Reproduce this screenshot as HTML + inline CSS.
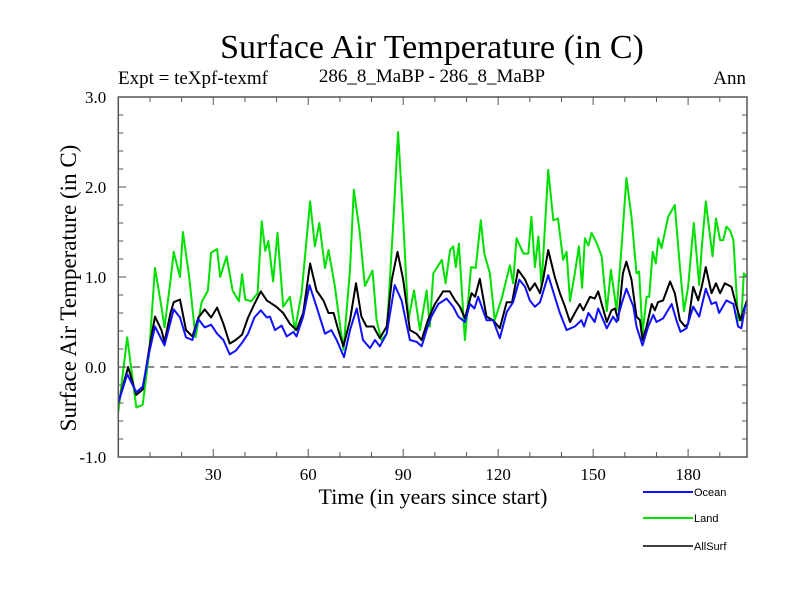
<!DOCTYPE html>
<html><head><meta charset="utf-8"><style>
body{margin:0;background:#fff;}
svg text{font-family:"Liberation Serif",serif;}
</style></head><body>
<svg id="chart" width="800" height="600" xmlns="http://www.w3.org/2000/svg">
<rect width="800" height="600" fill="#fff"/>
<text x="432" y="58" font-size="34" text-anchor="middle">Surface Air Temperature (in C)</text>
<text x="118" y="84" font-size="19">Expt = teXpf-texmf</text>
<text x="432" y="82" font-size="19" text-anchor="middle">286_8_MaBP - 286_8_MaBP</text>
<text x="746" y="84" font-size="19" text-anchor="end">Ann</text>
<text transform="translate(76,288) rotate(-90)" font-size="23" text-anchor="middle">Surface Air Temperature (in C)</text>
<text x="433" y="504" font-size="22" text-anchor="middle">Time (in years since start)</text>
<g id="plot"></g>
<g id="legend"></g>
</svg>
<script>
const xTicks=[30,60,90,120,150,180];
const yTickLabels=["-1.0","0.0","1.0","2.0","3.0"];
const yTicks=[-1,0,1,2,3];
const seriesNames=["Ocean","Land","AllSurf"];
const allYears=[0,3.1,5.7,7.7,9.7,11.6,13.6,14.6,16.5,17.5,19.5,21.4,23.4,25.3,27.3,29.3,31.2,33.2,35.2,37.1,39.1,41.0,43.0,45.0,46.9,49.9,52.1,54.2,56.3,58.4,60.6,62.6,64.8,66.4,68.0,69.5,71.1,73.2,75.1,76.8,78.4,80.6,82.6,84.8,86.4,88.2,90.0,92.1,94.2,95.8,97.8,100.0,102.6,104.7,106.4,107.9,109.5,111.6,112.7,114.2,116.3,118.4,120.5,122.7,124.4,126.3,128.5,130.0,131.6,133.2,134.2,135.8,137.9,139.5,141.1,142.7,144.2,145.8,146.9,149.0,150.5,151.6,152.7,154.3,155.8,156.9,157.9,159.4,160.5,162.1,163.7,164.8,165.6,166.9,168.5,169.5,170.5,172.1,174.3,175.8,177.4,179.0,180.0,181.6,183.2,184.3,185.6,187.4,188.8,190.1,191.6,193.7,195.3,196.5,197.9,198.6];
const allVals=[-0.4,0.0,-0.31,-0.25,0.19,0.56,0.41,0.28,0.6,0.72,0.75,0.41,0.34,0.55,0.64,0.55,0.66,0.48,0.26,0.3,0.36,0.55,0.7,0.84,0.74,0.67,0.6,0.48,0.41,0.6,1.15,0.85,0.74,0.6,0.6,0.41,0.23,0.52,0.93,0.56,0.45,0.45,0.32,0.45,0.97,1.28,0.97,0.41,0.37,0.3,0.52,0.7,0.84,0.84,0.74,0.67,0.54,0.82,0.78,0.98,0.56,0.52,0.43,0.72,0.72,1.08,0.97,0.85,0.93,0.82,0.97,1.3,1.0,0.82,0.67,0.5,0.6,0.7,0.63,0.78,0.76,0.84,0.7,0.5,0.63,0.65,0.52,1.04,1.17,0.97,0.56,0.52,0.3,0.45,0.7,0.63,0.72,0.74,0.95,0.82,0.52,0.45,0.48,0.89,0.74,0.89,1.11,0.82,0.93,0.82,0.93,0.89,0.67,0.52,0.67,0.74];
const landYears=[0,2.8,5.7,7.7,9.7,11.6,13.6,14.6,16.5,17.5,19.5,20.4,22.4,24.4,26.3,28.3,29.3,31.2,32.2,34.2,36.1,38.1,39.1,40.1,42.0,44.0,45.3,46.4,47.4,48.9,50.3,52.1,54.2,55.8,57.9,60.6,62.1,63.5,65.3,66.4,68.4,71.1,73.2,74.4,76.2,77.9,80.3,81.6,83.1,84.8,86.9,88.4,90.0,91.6,93.4,95.3,97.4,98.4,99.5,102.2,103.4,104.8,105.8,106.6,107.6,109.5,111.4,112.9,114.5,115.6,117.4,118.9,121.1,123.7,124.7,125.8,128.0,129.5,130.5,131.6,132.7,133.7,135.8,137.4,138.9,140.5,141.6,142.7,144.2,145.5,146.5,147.4,148.5,149.5,151.1,152.7,154.3,155.6,157.4,159.0,160.5,162.1,163.7,164.5,165.6,166.9,167.7,168.8,169.8,170.6,171.6,173.7,175.8,177.4,178.7,180.0,181.8,183.5,184.3,185.6,187.7,188.8,190.1,191.1,192.1,193.2,194.3,195.8,196.8,197.6,198.6];
const landVals=[-0.5,0.33,-0.45,-0.42,0.14,1.1,0.67,0.44,0.96,1.28,1.0,1.5,1.0,0.33,0.72,0.85,1.27,1.31,1.0,1.23,0.85,0.73,1.03,0.75,0.73,0.82,1.62,1.29,1.4,0.95,1.49,0.67,0.78,0.41,0.82,1.84,1.34,1.6,1.1,1.3,0.9,0.19,1.08,1.97,1.52,0.9,1.07,0.52,0.3,0.37,1.63,2.61,1.63,0.52,0.85,0.41,0.85,0.45,1.04,1.19,0.93,1.3,1.34,1.11,1.37,0.3,1.11,1.1,1.63,1.26,1.04,0.52,0.76,1.13,0.93,1.43,1.26,1.26,1.67,1.11,1.45,0.89,2.19,1.63,1.65,1.19,1.28,0.73,1.04,1.34,0.88,1.43,1.35,1.49,1.38,1.23,0.62,1.08,0.63,1.34,2.1,1.67,1.04,1.06,0.37,0.78,0.78,1.28,1.15,1.43,1.32,1.67,1.8,1.11,0.62,0.89,1.6,0.91,1.32,1.84,1.23,1.65,1.41,1.41,1.56,1.52,1.41,0.52,0.52,1.04,1.0];
const oceanYears=[0,2.8,5.7,7.7,9.7,11.6,14.6,17.5,19.5,21.4,23.4,25.3,27.3,29.3,31.2,33.2,35.2,37.1,39.1,41.0,43.0,45.0,46.9,47.9,49.5,51.6,53.2,55.3,56.3,58.4,60.4,62.6,65.3,67.3,69.0,71.3,73.2,75.3,77.3,79.5,81.1,82.6,84.8,87.3,89.5,92.1,94.2,95.8,97.4,98.9,101.1,103.7,105.8,107.4,109.5,111.1,112.5,113.7,116.3,118.4,120.5,122.7,124.7,126.7,128.5,130.0,131.6,133.2,135.8,137.9,139.5,141.6,144.2,146.3,147.1,148.5,150.5,151.6,154.3,156.3,157.4,159.0,160.5,162.7,163.7,165.6,167.4,169.0,170.0,172.1,174.8,176.3,177.6,179.5,181.6,183.5,185.6,187.4,188.8,189.8,192.1,194.3,195.8,196.8,198.0,198.6];
const oceanVals=[-0.4,-0.08,-0.28,-0.22,0.15,0.45,0.24,0.64,0.55,0.33,0.3,0.53,0.44,0.47,0.37,0.3,0.14,0.18,0.27,0.37,0.55,0.63,0.55,0.56,0.41,0.46,0.34,0.39,0.34,0.56,0.91,0.67,0.37,0.41,0.3,0.11,0.41,0.65,0.3,0.21,0.3,0.23,0.37,0.91,0.74,0.3,0.28,0.23,0.41,0.56,0.7,0.76,0.67,0.56,0.5,0.7,0.65,0.78,0.52,0.52,0.32,0.61,0.72,0.97,0.89,0.74,0.67,0.72,1.02,0.78,0.6,0.41,0.45,0.52,0.45,0.6,0.5,0.65,0.43,0.56,0.5,0.7,0.87,0.67,0.45,0.24,0.45,0.58,0.5,0.54,0.7,0.52,0.39,0.43,0.67,0.56,0.87,0.7,0.72,0.6,0.74,0.7,0.45,0.43,0.67,0.7];

const L=118.3,R=747,T=97,B=457,XMIN=0,XMAX=198.6,YMIN=-1,YMAX=3;
const xs=v=>L+(v-XMIN)/(XMAX-XMIN)*(R-L);
const ys=v=>B-(v-YMIN)/(YMAX-YMIN)*(B-T);
const NS="http://www.w3.org/2000/svg";
const plot=document.getElementById('plot');
const legend=document.getElementById('legend');
function mk(tag,attrs,parent){const e=document.createElementNS(NS,tag);for(const k in attrs)e.setAttribute(k,attrs[k]);parent.appendChild(e);return e;}

const z=mk('line',{x1:L,x2:R,y1:ys(0),y2:ys(0),stroke:'#444','stroke-width':1.2,'stroke-dasharray':'8,6'},plot);



function series(years,vals,color,name){
  const d=years.map((y,i)=>(i?'L':'M')+xs(y).toFixed(1)+','+ys(vals[i]).toFixed(1)).join('');
  const p=mk('path',{d:d,fill:'none',stroke:color,'stroke-width':2,'stroke-linejoin':'round'},plot);
  
  
}
series(landYears,landVals,'#00e000','land-line');
series(allYears,allVals,'#000','allsurf-line');
series(oceanYears,oceanVals,'#1010ff','ocean-line');

const fr=mk('rect',{x:L,y:T,width:R-L,height:B-T,fill:'none',stroke:'#555','stroke-width':1.5},plot);



for(let v=10;v<XMAX;v+=10){
  const major=v%30===0, len=major?8:5;
  mk('line',{x1:xs(v),x2:xs(v),y1:B,y2:B-len,stroke:'#555','stroke-width':1},plot);
  mk('line',{x1:xs(v),x2:xs(v),y1:T,y2:T+len,stroke:'#555','stroke-width':1},plot);
}
xTicks.forEach(v=>{
  const t=mk('text',{x:xs(v),y:B+23,'font-size':17,'text-anchor':'middle'},plot);
  t.textContent=String(v);
  
  
});
for(let k=0;k<=20;k++){
  const v=YMIN+k*0.2, major=k%5===0, len=major?8:5;
  mk('line',{x1:L,x2:L+len,y1:ys(v),y2:ys(v),stroke:'#555','stroke-width':1},plot);
  mk('line',{x1:R,x2:R-len,y1:ys(v),y2:ys(v),stroke:'#555','stroke-width':1},plot);
}
yTicks.forEach((v,i)=>{
  const t=mk('text',{x:L-12,y:ys(v)+6,'font-size':17,'text-anchor':'end'},plot);
  t.textContent=yTickLabels[i];
  
  
});

const legColors=['#1010ff','#00e000','#000'];
const legY=[492,518,546];
seriesNames.forEach((n,i)=>{
  const g=mk('g',{},legend);
  
  
  mk('line',{x1:643,x2:693,y1:legY[i],y2:legY[i],stroke:legColors[i],'stroke-width':i===2?1.5:2},g);
  const t=mk('text',{x:694,y:legY[i]+4,'font-size':11,style:'font-family:"Liberation Sans",sans-serif'},g);
  t.textContent=n;
});
</script>
</body></html>
